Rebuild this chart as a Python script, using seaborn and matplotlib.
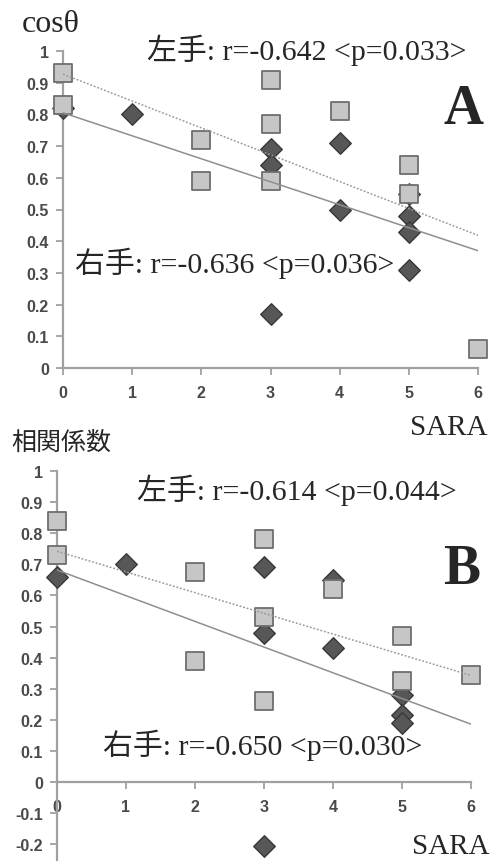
import numpy as np
import pandas as pd
import matplotlib
matplotlib.use("Agg")
import matplotlib.pyplot as plt
import seaborn as sns

# ---- data ----
# Panel A (cos theta)
a_left_x = [0, 0, 2, 2, 3, 3, 3, 4, 5, 5, 6]
a_left_y = [0.93, 0.83, 0.72, 0.59, 0.91, 0.77, 0.59, 0.81, 0.64, 0.55, 0.06]
a_right_x = [0, 1, 3, 3, 3, 4, 4, 5, 5, 5, 5]
a_right_y = [0.82, 0.80, 0.69, 0.64, 0.17, 0.71, 0.50, 0.55, 0.48, 0.43, 0.31]
# Panel B (相関係数)
b_left_x = [0, 0, 2, 2, 3, 3, 3, 4, 5, 5, 6]
b_left_y = [0.84, 0.73, 0.675, 0.39, 0.78, 0.53, 0.26, 0.62, 0.47, 0.325, 0.345]
b_right_x = [0, 1, 3, 3, 3, 4, 4, 5, 5, 5]
b_right_y = [0.66, 0.70, 0.69, 0.48, -0.205, 0.65, 0.43, 0.28, 0.215, 0.19]

a_labels = ["左手: r=-0.642 <p=0.033>", "右手: r=-0.636 <p=0.036>"]
b_labels = ["左手: r=-0.614 <p=0.044>", "右手: r=-0.650 <p=0.030>"]
x_ticks = [0, 1, 2, 3, 4, 5, 6]
a_yticks = [0, 0.1, 0.2, 0.3, 0.4, 0.5, 0.6, 0.7, 0.8, 0.9, 1]
b_yticks = [-0.2, -0.1, 0, 0.1, 0.2, 0.3, 0.4, 0.5, 0.6, 0.7, 0.8, 0.9, 1]

sns.set_theme(style="white")
plt.rcParams['font.family'] = ['Liberation Serif', 'Noto Sans CJK JP']

W, H = 496, 862
fig = plt.figure(figsize=(W / 100, H / 100), dpi=100)

SQ_FACE, SQ_EDGE = "#c6c6c6", "#6e6e6e"
DI_FACE, DI_EDGE = "#575757", "#383838"
AX_COL = "#a0a0a0"
TICK_COL = "#4a4a4a"


def fmt(v):
    if abs(v) < 1e-9:
        return "0"
    if abs(v - 1) < 1e-9:
        return "1"
    return ("%.1f" % v)


def panel(rect, lx, ly, rx, ry, ylim, yticks):
    ax = fig.add_axes(rect)
    ax.set_xlim(0, 6)
    ax.set_ylim(*ylim)
    sns.scatterplot(x=rx, y=ry, ax=ax, marker="D", s=120, color=DI_FACE,
                    edgecolor=DI_EDGE, linewidth=1.0, zorder=3, clip_on=False)
    sns.scatterplot(x=lx, y=ly, ax=ax, marker="s", s=150, color=SQ_FACE,
                    edgecolor=SQ_EDGE, linewidth=1.3, zorder=4, clip_on=False)
    sns.regplot(x=np.array(lx, float), y=np.array(ly, float), ax=ax, scatter=False,
                ci=None, truncate=False,
                line_kws=dict(color="#9a9a9a", lw=1.1, ls=(0, (1.2, 1.2)), zorder=5))
    sns.regplot(x=np.array(rx, float), y=np.array(ry, float), ax=ax, scatter=False,
                ci=None, truncate=False,
                line_kws=dict(color="#8f8f8f", lw=1.1, ls="-", zorder=5))
    ax.set_xlim(0, 6)
    ax.set_ylim(*ylim)
    ax.set_facecolor("none")
    for s in ["top", "right"]:
        ax.spines[s].set_visible(False)
    for s in ["left", "bottom"]:
        ax.spines[s].set_color(AX_COL)
        ax.spines[s].set_linewidth(1.6)
    ax.spines["bottom"].set_position(("data", 0))
    ax.spines["left"].set_bounds(ylim[0], 1)
    ax.set_xticks(x_ticks)
    ax.set_xticklabels([str(t) for t in x_ticks], family="Liberation Sans",
                       fontsize=11.5, color=TICK_COL, fontweight="bold")
    ax.set_yticks(yticks)
    ax.set_yticklabels([fmt(t) for t in yticks], family="Liberation Sans",
                       fontsize=11.5, color=TICK_COL, fontweight="bold")
    ax.tick_params(axis="both", direction="out", length=5, width=1.3,
                   color=AX_COL, left=True, bottom=True)
    ax.tick_params(axis="x", pad=7)
    ax.tick_params(axis="y", pad=5)
    ax.set_xlabel("")
    ax.set_ylabel("")
    ax.grid(False)
    return ax


# Panel A: y=1 at px 52, y=0 at px 369; x=0 at px 63, x=6 at px 478
ax1 = panel([63 / W, 1 - 369 / H, (478 - 63) / W, (369 - 52) / H],
            a_left_x, a_left_y, a_right_x, a_right_y, (0, 1), a_yticks)
# Panel B: y=1 at px 472, y=0 at 783 -> 0.1 = 31.1 px ; bottom at -0.25
b_bot = 783 + 2.5 * 31.1
ax2 = panel([57 / W, 1 - b_bot / H, (471 - 57) / W, (b_bot - 472) / H],
            b_left_x, b_left_y, b_right_x, b_right_y, (-0.25, 1), b_yticks)

fs_ann = 21.5
fig.text(147 / W, 1 - 50 / H, a_labels[0], fontsize=fs_ann, va="center", ha="left")
fig.text(75 / W, 1 - 263 / H, a_labels[1], fontsize=fs_ann, va="center", ha="left")
fig.text(137 / W, 1 - 490 / H, b_labels[0], fontsize=fs_ann, va="center", ha="left")
fig.text(103 / W, 1 - 745 / H, b_labels[1], fontsize=fs_ann, va="center", ha="left")

fig.text(464 / W, 1 - 110 / H, "A", fontsize=40, fontweight="bold", va="center", ha="center")
fig.text(462 / W, 1 - 570 / H, "B", fontsize=40, fontweight="bold", va="center", ha="center")

fig.text(22 / W, 1 - 24 / H, "cosθ", fontsize=23, va="center", ha="left")
fig.text(11 / W, 1 - 443 / H, "相関係数", fontsize=18, va="center", ha="left",
         family=["Noto Sans CJK JP", "DejaVu Sans"])
fig.text(487 / W, 1 - 428 / H, "SARA", fontsize=21, va="center", ha="right")
fig.text(490 / W, 1 - 847 / H, "SARA", fontsize=21, va="center", ha="right")

fig.savefig("out.png", dpi=100, facecolor="white")
